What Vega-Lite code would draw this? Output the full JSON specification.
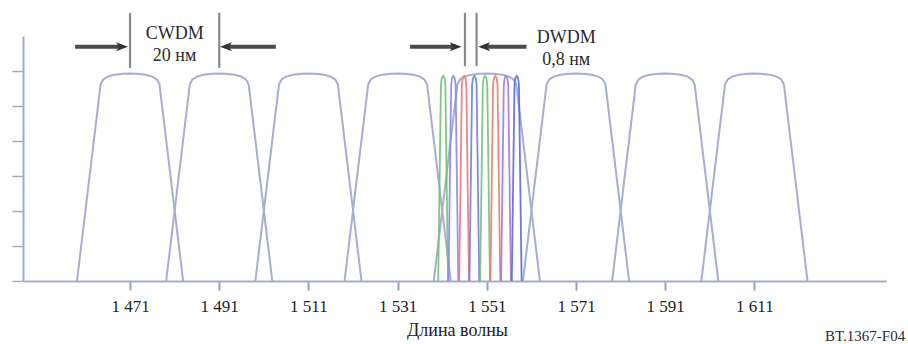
{
  "$schema": "https://vega.github.io/schema/vega-lite/v6.json",
  "width": 863,
  "height": 245,
  "autosize": {"type": "none"},
  "padding": {"left": 23, "top": 36, "right": 22, "bottom": 63},
  "background": "white",
  "config": {"view": {"stroke": null}},
  "datasets": {
    "cwdm": [
      {"ch": "1471", "wl": 1459.1, "v": 0}, {"ch": "1471", "wl": 1464.4, "v": 5.62}, {"ch": "1471", "wl": 1465.0, "v": 5.76}, {"ch": "1471", "wl": 1466.0, "v": 5.84}, {"ch": "1471", "wl": 1467.5, "v": 5.89}, {"ch": "1471", "wl": 1469.5, "v": 5.92}, {"ch": "1471", "wl": 1471.0, "v": 5.93}, {"ch": "1471", "wl": 1472.5, "v": 5.92}, {"ch": "1471", "wl": 1474.5, "v": 5.89}, {"ch": "1471", "wl": 1476.0, "v": 5.84}, {"ch": "1471", "wl": 1477.0, "v": 5.76}, {"ch": "1471", "wl": 1477.6, "v": 5.62}, {"ch": "1471", "wl": 1482.9, "v": 0},
      {"ch": "1491", "wl": 1479.1, "v": 0}, {"ch": "1491", "wl": 1484.4, "v": 5.62}, {"ch": "1491", "wl": 1485.0, "v": 5.76}, {"ch": "1491", "wl": 1486.0, "v": 5.84}, {"ch": "1491", "wl": 1487.5, "v": 5.89}, {"ch": "1491", "wl": 1489.5, "v": 5.92}, {"ch": "1491", "wl": 1491.0, "v": 5.93}, {"ch": "1491", "wl": 1492.5, "v": 5.92}, {"ch": "1491", "wl": 1494.5, "v": 5.89}, {"ch": "1491", "wl": 1496.0, "v": 5.84}, {"ch": "1491", "wl": 1497.0, "v": 5.76}, {"ch": "1491", "wl": 1497.6, "v": 5.62}, {"ch": "1491", "wl": 1502.9, "v": 0},
      {"ch": "1511", "wl": 1499.1, "v": 0}, {"ch": "1511", "wl": 1504.4, "v": 5.62}, {"ch": "1511", "wl": 1505.0, "v": 5.76}, {"ch": "1511", "wl": 1506.0, "v": 5.84}, {"ch": "1511", "wl": 1507.5, "v": 5.89}, {"ch": "1511", "wl": 1509.5, "v": 5.92}, {"ch": "1511", "wl": 1511.0, "v": 5.93}, {"ch": "1511", "wl": 1512.5, "v": 5.92}, {"ch": "1511", "wl": 1514.5, "v": 5.89}, {"ch": "1511", "wl": 1516.0, "v": 5.84}, {"ch": "1511", "wl": 1517.0, "v": 5.76}, {"ch": "1511", "wl": 1517.6, "v": 5.62}, {"ch": "1511", "wl": 1522.9, "v": 0},
      {"ch": "1531", "wl": 1519.1, "v": 0}, {"ch": "1531", "wl": 1524.4, "v": 5.62}, {"ch": "1531", "wl": 1525.0, "v": 5.76}, {"ch": "1531", "wl": 1526.0, "v": 5.84}, {"ch": "1531", "wl": 1527.5, "v": 5.89}, {"ch": "1531", "wl": 1529.5, "v": 5.92}, {"ch": "1531", "wl": 1531.0, "v": 5.93}, {"ch": "1531", "wl": 1532.5, "v": 5.92}, {"ch": "1531", "wl": 1534.5, "v": 5.89}, {"ch": "1531", "wl": 1536.0, "v": 5.84}, {"ch": "1531", "wl": 1537.0, "v": 5.76}, {"ch": "1531", "wl": 1537.6, "v": 5.62}, {"ch": "1531", "wl": 1542.9, "v": 0},
      {"ch": "1551", "wl": 1539.1, "v": 0}, {"ch": "1551", "wl": 1544.4, "v": 5.62}, {"ch": "1551", "wl": 1545.0, "v": 5.76}, {"ch": "1551", "wl": 1546.0, "v": 5.84}, {"ch": "1551", "wl": 1547.5, "v": 5.89}, {"ch": "1551", "wl": 1549.5, "v": 5.92}, {"ch": "1551", "wl": 1551.0, "v": 5.93}, {"ch": "1551", "wl": 1552.5, "v": 5.92}, {"ch": "1551", "wl": 1554.5, "v": 5.89}, {"ch": "1551", "wl": 1556.0, "v": 5.84}, {"ch": "1551", "wl": 1557.0, "v": 5.76}, {"ch": "1551", "wl": 1557.6, "v": 5.62}, {"ch": "1551", "wl": 1562.9, "v": 0},
      {"ch": "1571", "wl": 1559.1, "v": 0}, {"ch": "1571", "wl": 1564.4, "v": 5.62}, {"ch": "1571", "wl": 1565.0, "v": 5.76}, {"ch": "1571", "wl": 1566.0, "v": 5.84}, {"ch": "1571", "wl": 1567.5, "v": 5.89}, {"ch": "1571", "wl": 1569.5, "v": 5.92}, {"ch": "1571", "wl": 1571.0, "v": 5.93}, {"ch": "1571", "wl": 1572.5, "v": 5.92}, {"ch": "1571", "wl": 1574.5, "v": 5.89}, {"ch": "1571", "wl": 1576.0, "v": 5.84}, {"ch": "1571", "wl": 1577.0, "v": 5.76}, {"ch": "1571", "wl": 1577.6, "v": 5.62}, {"ch": "1571", "wl": 1582.9, "v": 0},
      {"ch": "1591", "wl": 1579.1, "v": 0}, {"ch": "1591", "wl": 1584.4, "v": 5.62}, {"ch": "1591", "wl": 1585.0, "v": 5.76}, {"ch": "1591", "wl": 1586.0, "v": 5.84}, {"ch": "1591", "wl": 1587.5, "v": 5.89}, {"ch": "1591", "wl": 1589.5, "v": 5.92}, {"ch": "1591", "wl": 1591.0, "v": 5.93}, {"ch": "1591", "wl": 1592.5, "v": 5.92}, {"ch": "1591", "wl": 1594.5, "v": 5.89}, {"ch": "1591", "wl": 1596.0, "v": 5.84}, {"ch": "1591", "wl": 1597.0, "v": 5.76}, {"ch": "1591", "wl": 1597.6, "v": 5.62}, {"ch": "1591", "wl": 1602.9, "v": 0},
      {"ch": "1611", "wl": 1599.1, "v": 0}, {"ch": "1611", "wl": 1604.4, "v": 5.62}, {"ch": "1611", "wl": 1605.0, "v": 5.76}, {"ch": "1611", "wl": 1606.0, "v": 5.84}, {"ch": "1611", "wl": 1607.5, "v": 5.89}, {"ch": "1611", "wl": 1609.5, "v": 5.92}, {"ch": "1611", "wl": 1611.0, "v": 5.93}, {"ch": "1611", "wl": 1612.5, "v": 5.92}, {"ch": "1611", "wl": 1614.5, "v": 5.89}, {"ch": "1611", "wl": 1616.0, "v": 5.84}, {"ch": "1611", "wl": 1617.0, "v": 5.76}, {"ch": "1611", "wl": 1617.6, "v": 5.62}, {"ch": "1611", "wl": 1622.9, "v": 0}
    ],
    "dwdm": [
      {"ch": "d1", "wl": 1540.1, "v": 0}, {"ch": "d1", "wl": 1540.7, "v": 5.6}, {"ch": "d1", "wl": 1540.9, "v": 5.8}, {"ch": "d1", "wl": 1541.2, "v": 5.86}, {"ch": "d1", "wl": 1541.5, "v": 5.8}, {"ch": "d1", "wl": 1541.7, "v": 5.6}, {"ch": "d1", "wl": 1542.3, "v": 0},
      {"ch": "d2", "wl": 1542.4, "v": 0}, {"ch": "d2", "wl": 1543.0, "v": 5.6}, {"ch": "d2", "wl": 1543.2, "v": 5.8}, {"ch": "d2", "wl": 1543.5, "v": 5.86}, {"ch": "d2", "wl": 1543.8, "v": 5.8}, {"ch": "d2", "wl": 1544.0, "v": 5.6}, {"ch": "d2", "wl": 1544.6, "v": 0},
      {"ch": "d3", "wl": 1544.8, "v": 0}, {"ch": "d3", "wl": 1545.4, "v": 5.6}, {"ch": "d3", "wl": 1545.6, "v": 5.8}, {"ch": "d3", "wl": 1545.9, "v": 5.86}, {"ch": "d3", "wl": 1546.2, "v": 5.8}, {"ch": "d3", "wl": 1546.4, "v": 5.6}, {"ch": "d3", "wl": 1547.0, "v": 0},
      {"ch": "d4", "wl": 1547.1, "v": 0}, {"ch": "d4", "wl": 1547.7, "v": 5.6}, {"ch": "d4", "wl": 1547.9, "v": 5.8}, {"ch": "d4", "wl": 1548.2, "v": 5.86}, {"ch": "d4", "wl": 1548.5, "v": 5.8}, {"ch": "d4", "wl": 1548.7, "v": 5.6}, {"ch": "d4", "wl": 1549.3, "v": 0},
      {"ch": "d5", "wl": 1549.5, "v": 0}, {"ch": "d5", "wl": 1550.1, "v": 5.6}, {"ch": "d5", "wl": 1550.3, "v": 5.8}, {"ch": "d5", "wl": 1550.6, "v": 5.86}, {"ch": "d5", "wl": 1550.9, "v": 5.8}, {"ch": "d5", "wl": 1551.1, "v": 5.6}, {"ch": "d5", "wl": 1551.7, "v": 0},
      {"ch": "d6", "wl": 1551.8, "v": 0}, {"ch": "d6", "wl": 1552.4, "v": 5.6}, {"ch": "d6", "wl": 1552.6, "v": 5.8}, {"ch": "d6", "wl": 1552.9, "v": 5.86}, {"ch": "d6", "wl": 1553.2, "v": 5.8}, {"ch": "d6", "wl": 1553.4, "v": 5.6}, {"ch": "d6", "wl": 1554.0, "v": 0},
      {"ch": "d7", "wl": 1554.2, "v": 0}, {"ch": "d7", "wl": 1554.8, "v": 5.6}, {"ch": "d7", "wl": 1555.0, "v": 5.8}, {"ch": "d7", "wl": 1555.3, "v": 5.86}, {"ch": "d7", "wl": 1555.6, "v": 5.8}, {"ch": "d7", "wl": 1555.8, "v": 5.6}, {"ch": "d7", "wl": 1556.4, "v": 0},
      {"ch": "d8", "wl": 1556.6, "v": 0}, {"ch": "d8", "wl": 1557.2, "v": 5.6}, {"ch": "d8", "wl": 1557.4, "v": 5.8}, {"ch": "d8", "wl": 1557.7, "v": 5.86}, {"ch": "d8", "wl": 1558.0, "v": 5.8}, {"ch": "d8", "wl": 1558.2, "v": 5.6}, {"ch": "d8", "wl": 1558.8, "v": 0}
    ],
    "bars": [
      {"x": 1471, "y": 6.09, "y2": 7.66},
      {"x": 1491, "y": 6.09, "y2": 7.66},
      {"x": 1546.1, "y": 6.14, "y2": 7.66},
      {"x": 1548.7, "y": 6.14, "y2": 7.66}
    ],
    "arrows": [
      {"tail": 1458.7, "head": 1469.2, "y": 6.69, "dir": "right"},
      {"tail": 1503.7, "head": 1492.5, "y": 6.69, "dir": "left"},
      {"tail": 1533.8, "head": 1544.0, "y": 6.69, "dir": "right"},
      {"tail": 1559.9, "head": 1550.4, "y": 6.69, "dir": "left"}
    ],
    "notes": [
      {"t": "CWDM", "x": 1481.0, "y": 7.07},
      {"t": "20 нм", "x": 1481.0, "y": 6.43},
      {"t": "DWDM", "x": 1568.8, "y": 6.94},
      {"t": "0,8 нм", "x": 1568.8, "y": 6.31}
    ],
    "ref": [
      {"t": "BT.1367-F04", "x": 1644.8, "y": -1.7}
    ]
  },
  "layer": [
    {
      "data": {"name": "cwdm"},
      "mark": {"type": "line", "interpolate": "linear", "color": "#a7aecf", "strokeWidth": 2},
      "encoding": {
        "x": {
          "field": "wl", "type": "quantitative",
          "scale": {"domain": [1447, 1640.5], "nice": false, "zero": false},
          "axis": {
            "values": [1471, 1491, 1511, 1531, 1551, 1571, 1591, 1611],
            "labelExpr": "substring(toString(datum.value), 0, 1) + ' ' + substring(toString(datum.value), 1)",
            "domainColor": "#a3acc9", "domainWidth": 2,
            "tickColor": "#97a1c0", "tickWidth": 2, "tickSize": 9,
            "labelFont": "Liberation Serif", "labelFontSize": 17, "labelColor": "#222222", "labelPadding": 8,
            "grid": false,
            "title": "Длина волны",
            "titleFont": "Liberation Serif", "titleFontSize": 18, "titleFontWeight": "normal", "titleColor": "#222222",
            "titleBaseline": "alphabetic", "titleY": 54, "titleX": 434
          }
        },
        "y": {
          "field": "v", "type": "quantitative",
          "scale": {"domain": [0, 7], "nice": false},
          "axis": {
            "values": [0, 1, 2, 3, 4, 5, 6],
            "labels": false, "title": null, "grid": false,
            "domainColor": "#a3acc9", "domainWidth": 2,
            "tickColor": "#a3acc9", "tickWidth": 1.5, "tickSize": 11
          }
        },
        "detail": {"field": "ch"}
      }
    },
    {
      "data": {"name": "dwdm"},
      "mark": {"type": "line", "interpolate": "linear", "strokeWidth": 1.8, "opacity": 0.9},
      "encoding": {
        "x": {"field": "wl", "type": "quantitative"},
        "y": {"field": "v", "type": "quantitative"},
        "color": {
          "field": "ch", "type": "nominal", "legend": null,
          "scale": {"domain": ["d1", "d2", "d3", "d4", "d5", "d6", "d7", "d8"],
                    "range": ["#74c074", "#8a8ae6", "#ec7a7a", "#6f7fdc", "#78c078", "#e8806e", "#a07ae0", "#5a6ad8"]}
        }
      }
    },
    {
      "data": {"name": "bars"},
      "mark": {"type": "rule", "color": "#8a8a8a", "strokeWidth": 2.2},
      "encoding": {
        "x": {"field": "x", "type": "quantitative"},
        "y": {"field": "y", "type": "quantitative"},
        "y2": {"field": "y2"}
      }
    },
    {
      "data": {"name": "arrows"},
      "mark": {"type": "rule", "color": "#4a4a4a", "strokeWidth": 4},
      "encoding": {
        "x": {"field": "tail", "type": "quantitative"},
        "x2": {"field": "head"},
        "y": {"field": "y", "type": "quantitative"}
      }
    },
    {
      "data": {"name": "arrows"},
      "transform": [{"filter": "datum.dir === 'right'"}],
      "mark": {"type": "point", "filled": true, "color": "#333333", "opacity": 1, "size": 144, "angle": 0,
               "shape": "M 1 0 L -1 -0.75 L -0.5 0 L -1 0.75 Z"},
      "encoding": {
        "x": {"field": "head", "type": "quantitative"},
        "y": {"field": "y", "type": "quantitative"}
      }
    },
    {
      "data": {"name": "arrows"},
      "transform": [{"filter": "datum.dir === 'left'"}],
      "mark": {"type": "point", "filled": true, "color": "#333333", "opacity": 1, "size": 144, "angle": 180,
               "shape": "M 1 0 L -1 -0.75 L -0.5 0 L -1 0.75 Z"},
      "encoding": {
        "x": {"field": "head", "type": "quantitative"},
        "y": {"field": "y", "type": "quantitative"}
      }
    },
    {
      "data": {"name": "notes"},
      "mark": {"type": "text", "font": "Liberation Serif", "fontSize": 18, "color": "#2a2a2a", "align": "center", "baseline": "middle"},
      "encoding": {
        "x": {"field": "x", "type": "quantitative"},
        "y": {"field": "y", "type": "quantitative"},
        "text": {"field": "t"}
      }
    },
    {
      "data": {"name": "ref"},
      "mark": {"type": "text", "font": "Liberation Serif", "fontSize": 15, "color": "#2a2a2a", "align": "right", "baseline": "alphabetic"},
      "encoding": {
        "x": {"field": "x", "type": "quantitative"},
        "y": {"field": "y", "type": "quantitative"},
        "text": {"field": "t"}
      }
    }
  ]
}
